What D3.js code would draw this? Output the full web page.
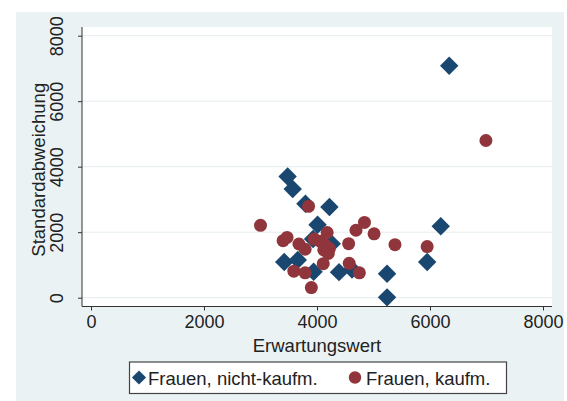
<!DOCTYPE html>
<html>
<head>
<meta charset="utf-8">
<script src="https://cdn.jsdelivr.net/npm/d3@7"></script>
<style>
  body { margin: 0; background: #fff; }
  text { font-family: "Liberation Sans", Arial, sans-serif; fill: #222; }
</style>
</head>
<body>
<div id="chart"></div>
<script>
// data: [Erwartungswert, Standardabweichung]
const nichtKaufm = [
  [3480, 3700], [3570, 3320], [3795, 2870], [4220, 2770], [4010, 2230],
  [3930, 1790], [4260, 1650], [3420, 1090], [3660, 1150], [3940, 790],
  [4390, 780], [4620, 860], [5240, 730], [5240, 10], [5950, 1090],
  [6190, 2180], [6340, 7080]
];
const kaufm = [
  [3000, 2210], [3400, 1740], [3470, 1840], [3680, 1640], [3790, 1480],
  [3850, 2790], [3590, 810], [3790, 760], [3900, 310], [3950, 1790],
  [4060, 1720], [4180, 1990], [4120, 1460], [4220, 1500], [4200, 1350],
  [4150, 1600], [4110, 1040], [4560, 1650], [4570, 1050], [4690, 2060],
  [4840, 2300], [4750, 760], [5010, 1950], [5380, 1620], [5950, 1560],
  [6990, 4800]
];
const ticks = [0, 2000, 4000, 6000, 8000];
const legendLabels = ["Frauen, nicht-kaufm.", "Frauen, kaufm."];

const width = 567;
const height = 401;
const navy = "#1a476f";
const maroon = "#90353b";

const svg = d3.select("#chart")
    .append("svg")
    .attr("width", width)
    .attr("height", height);

// outer graph region
svg.append("rect")
    .attr("x", 16).attr("y", 12)
    .attr("width", 548).attr("height", height - 12)
    .attr("fill", "#eaf2f4");

// plot region
const plot = {l: 82, r: 552, t: 27, b: 306.5};
svg.append("rect")
    .attr("x", plot.l).attr("y", plot.t)
    .attr("width", plot.r - plot.l).attr("height", plot.b - plot.t)
    .attr("fill", "#fff");

const xScale = d3.scaleLinear().domain([0, 8000]).range([91, 543]);
const yScale = d3.scaleLinear().domain([0, 8000]).range([297.7, 35.7]);

// gridlines
svg.append("g")
    .selectAll("line")
    .data(ticks)
    .join("line")
    .attr("x1", plot.l).attr("x2", plot.r)
    .attr("y1", d => yScale(d)).attr("y2", d => yScale(d))
    .attr("stroke", "#e4ecef")
    .attr("stroke-width", 1);

// x axis
const xAxis = d3.axisBottom(xScale).tickValues(ticks).tickSize(4).tickPadding(5).tickFormat(d3.format("d"));
const gx = svg.append("g")
    .attr("transform", `translate(0, ${plot.b})`)
    .call(xAxis);
gx.select(".domain").attr("d", `M${plot.l},0H${plot.r}`).attr("stroke", "#333");
gx.selectAll(".tick line").attr("stroke", "#333");
gx.selectAll(".tick text")
    .attr("font-size", "18px")
    .attr("font-family", "Liberation Sans, Arial, sans-serif")
    .attr("fill", "#333");

// y axis, labels turned like Stata does
const yAxis = d3.axisLeft(yScale).tickValues(ticks).tickSize(4).tickFormat(d3.format("d"));
const gy = svg.append("g")
    .attr("transform", `translate(${plot.l}, 0)`)
    .call(yAxis);
gy.select(".domain").attr("d", `M0,${plot.t}V${plot.b}`).attr("stroke", "#333");
gy.selectAll(".tick line").attr("stroke", "#333");
gy.selectAll(".tick text")
    .attr("font-size", "18px")
    .attr("font-family", "Liberation Sans, Arial, sans-serif")
    .attr("fill", "#333")
    .attr("text-anchor", "middle")
    .attr("x", null).attr("dy", null)
    .attr("transform", "translate(-19, 0) rotate(-90)");

// axis titles
svg.append("text")
    .attr("x", (plot.l + plot.r) / 2)
    .attr("y", 352)
    .attr("text-anchor", "middle")
    .attr("font-size", "18.5px")
    .attr("fill", "#333")
    .text("Erwartungswert");
svg.append("text")
    .attr("transform", `translate(45, ${(plot.t + plot.b) / 2 + 3}) rotate(-90)`)
    .attr("text-anchor", "middle")
    .attr("font-size", "18.5px")
    .attr("fill", "#333")
    .text("Standardabweichung");

const diamond = d3.symbol().type(d3.symbolSquare).size(170);

svg.append("g")
    .selectAll("path")
    .data(nichtKaufm)
    .join("path")
    .attr("d", diamond)
    .attr("transform", d => `translate(${xScale(d[0])}, ${yScale(d[1])}) rotate(45)`)
    .attr("fill", navy);

svg.append("g")
    .selectAll("circle")
    .data(kaufm)
    .join("circle")
    .attr("cx", d => xScale(d[0]))
    .attr("cy", d => yScale(d[1]))
    .attr("r", 6.5)
    .attr("fill", maroon);

// legend
const legend = svg.append("g");
legend.append("rect")
    .attr("x", 129.5).attr("y", 362)
    .attr("width", 377).attr("height", 31.5)
    .attr("fill", "#fff")
    .attr("stroke", "#444")
    .attr("stroke-width", 1.2);
legend.append("path")
    .attr("d", d3.symbol().type(d3.symbolSquare).size(100))
    .attr("transform", "translate(139, 377.5) rotate(45)")
    .attr("fill", navy);
legend.append("circle")
    .attr("cx", 355).attr("cy", 377.5).attr("r", 6.2)
    .attr("fill", maroon);
legend.selectAll("text")
    .data(legendLabels)
    .join("text")
    .attr("x", (d, i) => i === 0 ? 148 : 366)
    .attr("y", 384.5)
    .attr("font-size", "18.5px")
    .attr("fill", "#222")
    .text(d => d);
</script>
</body>
</html>
